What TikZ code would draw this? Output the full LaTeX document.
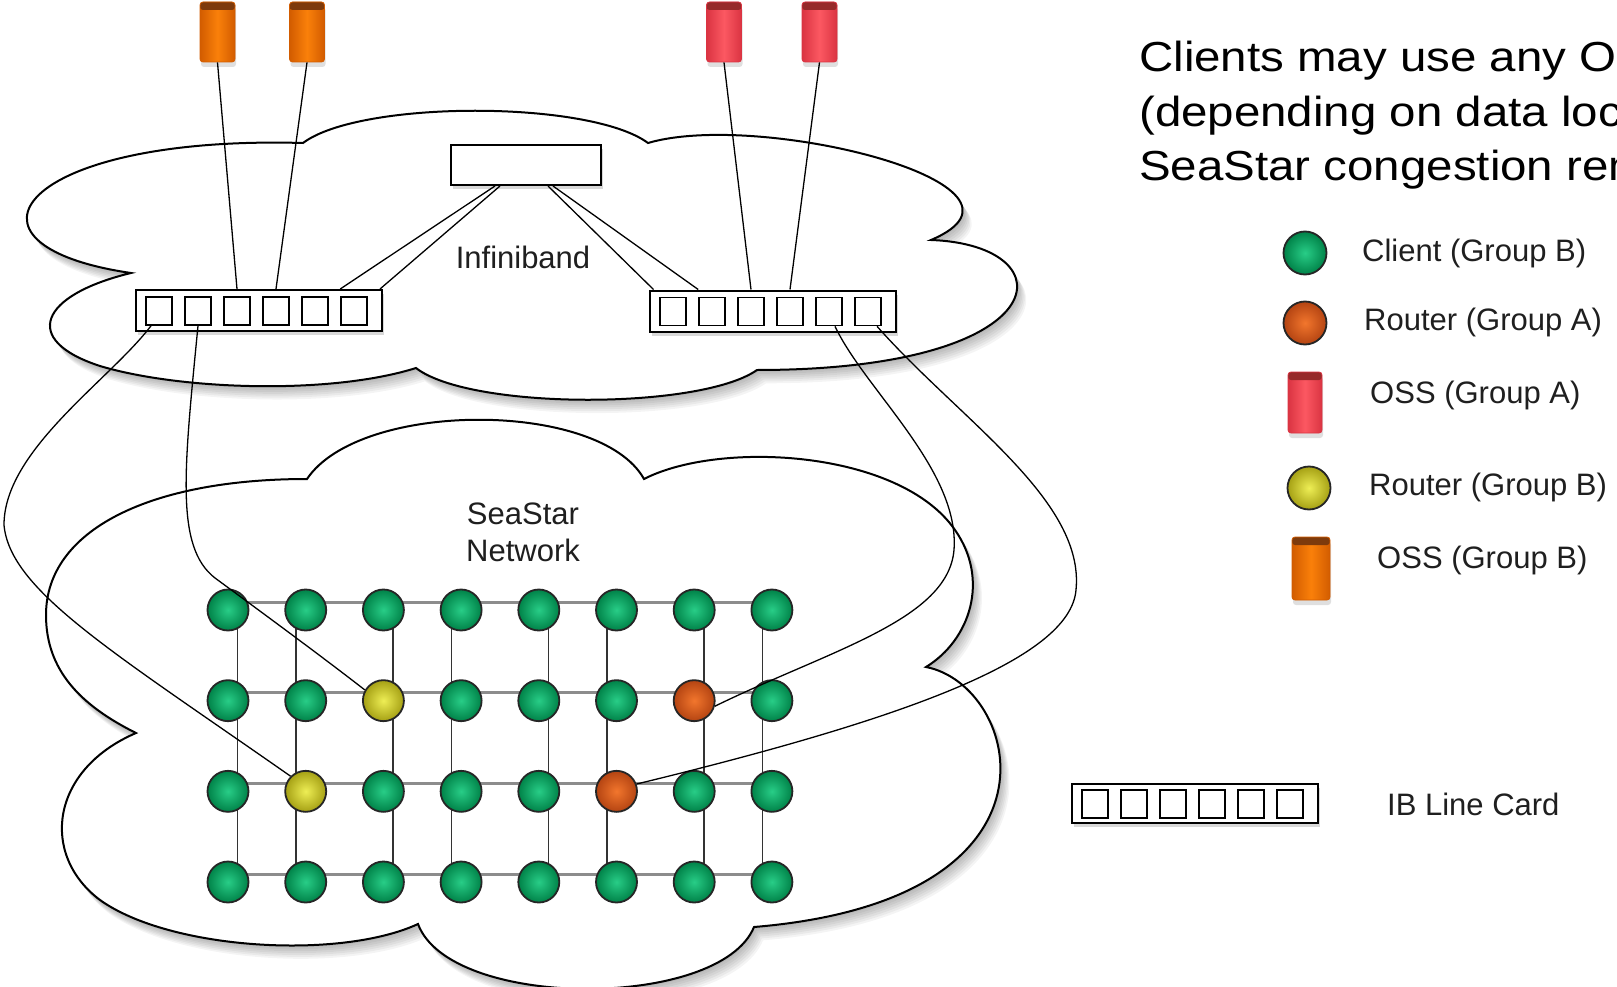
\documentclass[tikz,border=0pt]{standalone}
\usepackage{fontspec}
\setmainfont{Liberation Sans}
\newfontfamily\bigfont[FakeStretch=1.13]{Liberation Sans}
\usetikzlibrary{shadows}
\definecolor{gIn}{RGB}{40,205,135}
\definecolor{gOut}{RGB}{0,130,72}
\definecolor{yIn}{RGB}{238,238,85}
\definecolor{yOut}{RGB}{165,160,20}
\definecolor{oIn}{RGB}{242,118,45}
\definecolor{oOut}{RGB}{180,68,18}
\definecolor{ossBbody}{RGB}{250,128,10}
\definecolor{ossBedge}{RGB}{210,92,0}
\definecolor{ossBcap}{RGB}{125,58,12}
\definecolor{ossAbody}{RGB}{252,88,98}
\definecolor{ossAedge}{RGB}{218,52,66}
\definecolor{ossAcap}{RGB}{150,42,42}
\def\cloudUpper{(131,273) .. controls (-60,245) and (20,135) .. (303,143) .. controls (360,100) and (590,100) .. (648,143) .. controls (760,110) and (1060,185) .. (931,240) .. controls (1070,245) and (1060,370) .. (757,370) .. controls (700,410) and (470,410) .. (416,368) .. controls (330,395) and (180,390) .. (100,366) .. controls (20,340) and (40,295) .. (131,273) -- cycle}
\def\cloudLower{(136,733) .. controls (80,705) and (46,670) .. (46,615) .. controls (46,530) and (150,479) .. (307,479) .. controls (360,400) and (600,400) .. (644,479) .. controls (720,440) and (900,450) .. (955,530) .. controls (990,580) and (970,640) .. (926,667) .. controls (1020,685) and (1080,900) .. (754,927) .. controls (720,1010) and (450,1010) .. (418,924) .. controls (340,960) and (170,950) .. (100,900) .. controls (40,855) and (50,770) .. (136,733) -- cycle}
\begin{document}
\begin{tikzpicture}[x=1pt,y=-1pt,
  ball/.style={circle, minimum size=41pt, inner sep=0pt, draw=black!85, line width=1.8pt},
  client/.style={ball, inner color=gIn, outer color=gOut},
  rtrA/.style={ball, inner color=oIn, outer color=oOut},
  rtrB/.style={ball, inner color=yIn, outer color=yOut},
  cyl/.style={rectangle, rounded corners=3pt, inner sep=0pt, minimum width=35pt, minimum height=60pt, line width=0.8pt,
    drop shadow={shadow xshift=1pt, shadow yshift=-5pt, opacity=0.25}},
  ossA/.style={cyl, draw=ossAedge, left color=ossAedge, right color=ossAedge, middle color=ossAbody,
    path picture={\fill[ossAcap] ([yshift=1pt]path picture bounding box.north west) rectangle ([yshift=-8pt]path picture bounding box.north east);}},
  ossB/.style={cyl, draw=ossBedge, left color=ossBedge, right color=ossBedge, middle color=ossBbody,
    path picture={\fill[ossBcap] ([yshift=1pt]path picture bounding box.north west) rectangle ([yshift=-8pt]path picture bounding box.north east);}},
  card/.style={rectangle, draw=black, line width=2pt, fill=white, minimum width=246pt, minimum height=41pt, inner sep=0pt,
    drop shadow={shadow xshift=2pt, shadow yshift=-4pt, opacity=0.3}},
  slot/.style={rectangle, draw=black, line width=1.6pt, fill=white, minimum width=26pt, minimum height=28pt, inner sep=0pt},
  swbox/.style={rectangle, draw=black, line width=2pt, fill=white, minimum width=150pt, minimum height=40pt, inner sep=0pt,
    drop shadow={shadow xshift=2pt, shadow yshift=-4pt, opacity=0.3}},
  conn/.style={draw=black, line width=1.3pt},
  hline/.style={draw=black!45, line width=3pt},
  vline/.style={draw=black!80, line width=1.6pt},
  lbl/.style={font=\fontsize{31}{37}\selectfont, text=black!88, inner sep=0pt},
  big/.style={font=\bigfont\fontsize{42}{52}\selectfont, text=black, inner sep=0pt, anchor=base west}
]
\useasboundingbox (0,0) rectangle (1617,987);
\clip (0,0) rectangle (1617,987);
\fill[white] (0,0) rectangle (1617,987);

% clouds with soft shadows
\foreach \s in {1,...,7} \fill[black, opacity=0.045, shift={({1.3*\s},{1.9*\s})}] \cloudLower;
\filldraw[fill=white, draw=black, line width=2pt] \cloudLower;
\foreach \s in {1,...,7} \fill[black, opacity=0.045, shift={({1.3*\s},{1.9*\s})}] \cloudUpper;
\filldraw[fill=white, draw=black, line width=2pt] \cloudUpper;

% labels in clouds
\node[lbl] (ib) at (523,257) {Infiniband};
\node[lbl, align=center] (ss) at (523,532) {SeaStar\\Network};

% OSS
\node[ossB] (oss1) at (217.5,32) {};
\node[ossB] (oss2) at (307,32) {};
\node[ossA] (oss3) at (724,32) {};
\node[ossA] (oss4) at (819.5,32) {};

% switch box
\node[swbox] (sw) at (526,165) {};

% line cards
\node[card] (Lcard) at (259,310.5) {};
\foreach \k in {1,...,6} \node[slot] (L\k) at ({159+39*(\k-1)},311) {};
\node[card] (Rcard) at (772.5,311) {};
\foreach \k in {1,...,6} \node[slot] (R\k) at ({673+39*(\k-1)},311.5) {};

% grid
\foreach \i in {0,...,7}{\foreach \j in {0,...,3}{\coordinate (c\i\j) at ({228+77.7*\i},{610+90.67*\j});}}
\foreach \j in {0,...,3} \draw[hline] ([yshift=8pt]c0\j) -- ([yshift=8pt]c7\j);
\foreach \i/\o in {0/9.5,1/-9.5,2/9.5,3/-9.5,4/9.5,5/-9.5,6/9.5,7/-9.5} \draw[vline] ([xshift=\o pt]c\i0) -- ([xshift=\o pt]c\i3);
\foreach \i in {0,...,7}{\foreach \j in {0,...,3}{
  \def\kind{client}
  \ifnum\i\j=21 \def\kind{rtrB}\fi
  \ifnum\i\j=12 \def\kind{rtrB}\fi
  \ifnum\i\j=61 \def\kind{rtrA}\fi
  \ifnum\i\j=52 \def\kind{rtrA}\fi
  \edef\tmpnode{\noexpand\node[\kind] (n\i\j) at (c\i\j) {};}\tmpnode
}}

% connectors: OSS to cards
\draw[conn] (oss1.south) -- (L3.north |- Lcard.north);
\draw[conn] (oss2.south) -- (L4.north |- Lcard.north);
\draw[conn] (oss3.south) -- (R3.north |- Rcard.north);
\draw[conn] (oss4.south) -- (R4.north |- Rcard.north);
% switch to cards (double links)
\draw[conn] ([xshift=-31pt]sw.south) -- (L6.north west |- Lcard.north);
\draw[conn] ([xshift=-26pt]sw.south) -- ([xshift=-3pt]Lcard.north east);
\draw[conn] ([xshift=22pt]sw.south) -- ([xshift=5pt]Rcard.north west);
\draw[conn] ([xshift=27pt]sw.south) -- (R2.north west |- Rcard.north);
% cards to routers
\draw[conn] ([xshift=-8pt]L1.south) .. controls (110,380) and (4,450) .. (4,525) .. controls (10,590) and (110,650) .. (n12.135);
\draw[conn] (L2.south) .. controls (184,470) and (175,547) .. (215,578) .. controls (245,600) and (320,655) .. (n21.150);
\draw[conn] ([xshift=6pt]R5.south) .. controls (865,390) and (960,470) .. (954,550) .. controls (948,620) and (830,650) .. (n61.-15);
\draw[conn] ([xshift=9pt]R6.south) .. controls (960,420) and (1085,500) .. (1076,590) .. controls (1070,660) and (900,720) .. (n52.20);

% heading text
\node[big] (t1) at (1139,72) {Clients may use any O};
\node[big] (t2) at (1139,126.5) {(depending on data loc};
\node[big] (t3) at (1139,181) {SeaStar congestion rem};

% legend
\node[client, minimum size=43pt] (lg1) at (1305,253) {};
\node[lbl, anchor=west] (lt1) at (1362,253) {Client (Group B)};
\node[rtrA, minimum size=43pt] (lg2) at (1305,323) {};
\node[lbl, anchor=west] (lt2) at (1364,322) {Router (Group A)};
\node[ossA, minimum width=34pt, minimum height=61pt] (lg3) at (1305,402.5) {};
\node[lbl, anchor=west] (lt3) at (1370,395) {OSS (Group A)};
\node[rtrB, minimum size=43pt] (lg4) at (1309,488) {};
\node[lbl, anchor=west] (lt4) at (1369,487) {Router (Group B)};
\node[ossB, minimum width=38pt, minimum height=63pt] (lg5) at (1311,568.5) {};
\node[lbl, anchor=west] (lt5) at (1377,560) {OSS (Group B)};
\node[card, minimum height=39pt] (lgc) at (1195,803.5) {};
\foreach \k in {1,...,6} \node[slot] (G\k) at ({1095+39*(\k-1)},804) {};
\node[lbl, anchor=west] (lt6) at (1387,804) {IB Line Card};
\end{tikzpicture}
\end{document}
